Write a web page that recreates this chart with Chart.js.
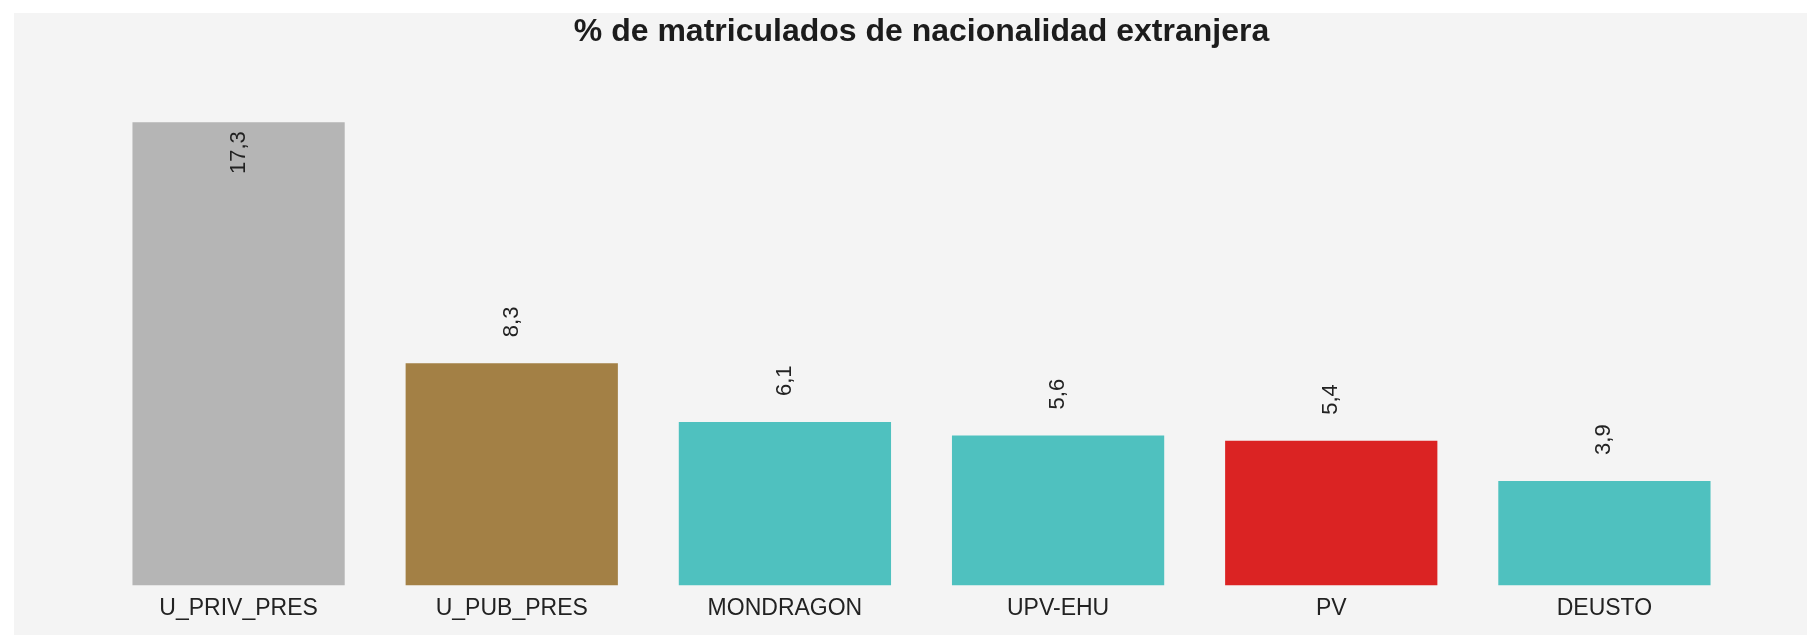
<!DOCTYPE html>
<html>
<head>
<meta charset="utf-8">
<script src="https://cdn.jsdelivr.net/npm/chart.js@4/dist/chart.umd.min.js"></script>
<style>
  body { margin: 0; background: #fff; }
  #wrap { position: absolute; left: 14px; top: 13px; width: 1793px; height: 622px; background: #f4f4f4; }
</style>
</head>
<body>
<div id="wrap"><canvas id="chart"></canvas></div>
<script>
// data
const universidades = ['U_PRIV_PRES', 'U_PUB_PRES', 'MONDRAGON', 'UPV-EHU', 'PV', 'DEUSTO'];
const pctExtranjeros = [17.3, 8.3, 6.1, 5.6, 5.4, 3.9];
const barColors = ['#b5b5b5', '#a38045', '#4fc1bf', '#4fc1bf', '#db2323', '#4fc1bf'];

const FONT = '"Liberation Sans", Arial, sans-serif';

// rotated value labels (comma decimal), biggest one goes inside the bar
const valueLabels = {
  id: 'valueLabels',
  afterDatasetsDraw(chart) {
    const ctx = chart.ctx;
    const meta = chart.getDatasetMeta(0);
    const maxVal = Math.max(...pctExtranjeros);
    ctx.save();
    ctx.font = '22px ' + FONT;
    ctx.fillStyle = '#222';
    ctx.textBaseline = 'middle';
    meta.data.forEach((bar, i) => {
      const v = pctExtranjeros[i];
      const txt = v.toFixed(1).replace('.', ',');
      ctx.save();
      ctx.translate(bar.x, bar.y);
      ctx.rotate(-Math.PI / 2);
      if (v === maxVal) {
        ctx.textAlign = 'right';
        ctx.fillText(txt, -9, 0);
      } else {
        ctx.textAlign = 'left';
        ctx.fillText(txt, 26, 0);
      }
      ctx.restore();
    });
    ctx.restore();
  }
};

new Chart(document.getElementById('chart'), {
  type: 'bar',
  data: {
    labels: universidades,
    datasets: [{
      data: pctExtranjeros,
      backgroundColor: barColors,
      borderWidth: 0,
      barPercentage: 0.777,
      categoryPercentage: 1
    }]
  },
  options: {
    responsive: true,
    maintainAspectRatio: false,
    animation: false,
    layout: { padding: { left: 88, right: 66, top: 0, bottom: 4 } },
    plugins: {
      legend: { display: false },
      tooltip: { enabled: false },
      title: {
        display: true,
        fullSize: false,
        text: '% de matriculados de nacionalidad extranjera',
        color: '#1c1c1c',
        font: { family: FONT, size: 32, weight: 'bold' },
        padding: { top: 0, bottom: 52 }
      }
    },
    scales: {
      x: {
        grid: { display: false, drawTicks: false },
        border: { display: false },
        ticks: { color: '#222', padding: 9, font: { family: FONT, size: 23 } }
      },
      y: {
        display: false,
        min: 0,
        max: 18
      }
    }
  },
  plugins: [valueLabels]
});
</script>
</body>
</html>
